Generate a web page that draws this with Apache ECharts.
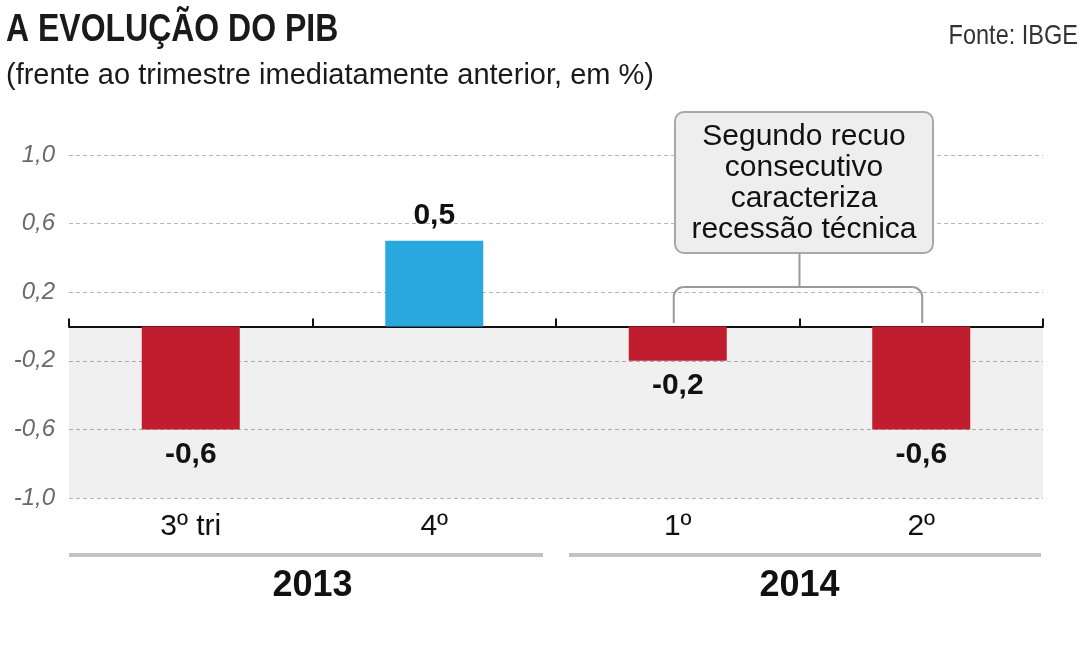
<!DOCTYPE html>
<html>
<head>
<meta charset="utf-8">
<script src="https://cdn.jsdelivr.net/npm/echarts@6/dist/echarts.min.js"></script>
<style>
html,body{margin:0;padding:0;background:#fff;}
#chart{width:1086px;height:652px;}
</style>
</head>
<body>
<div id="chart"></div>
<script>
// ---- data ----
var categories = ['3º tri', '4º', '1º', '2º'];
var values = [-0.6, 0.5, -0.2, -0.6];
var years = ['2013', '2014'];
var yTicks = [-1.0, -0.6, -0.2, 0.2, 0.6, 1.0];
var titleText = 'A EVOLUÇÃO DO PIB';
var subtitleText = '(frente ao trimestre imediatamente anterior, em %)';
var sourceText = 'Fonte: IBGE';
var noteLines = ['Segundo recuo', 'consecutivo', 'caracteriza', 'recessão técnica'];

var RED = '#C01E2E', BLUE = '#29A8E0';
var SANS = '"Liberation Sans", Arial, sans-serif';

var chart = echarts.init(document.getElementById('chart'), null, {renderer: 'canvas'});

function fmt(v) { return (Math.round(v * 10) / 10).toFixed(1).replace('.', ','); }

var option = {
  animation: false,
  backgroundColor: '#fff',
  grid: {left: 69, right: 43, top: 155, bottom: 154, containLabel: false},
  xAxis: [
    {
      type: 'category', data: categories,
      axisLine: {onZero: true, lineStyle: {color: '#111', width: 2}},
      axisTick: {show: true, inside: true, length: 8, lineStyle: {color: '#111', width: 2}},
      axisLabel: {show: false},
      splitLine: {show: false}
    },
    {
      type: 'category', data: categories, position: 'bottom',
      axisLine: {show: false, onZero: false}, axisTick: {show: false},
      axisLabel: {show: true, margin: 14, fontSize: 30, fontFamily: SANS, color: '#111'}
    },
    {
      type: 'category', data: years, position: 'bottom',
      axisLine: {show: false, onZero: false}, axisTick: {show: false},
      axisLabel: {show: true, margin: 70, fontSize: 36, fontWeight: 'bold', fontFamily: SANS, color: '#111'}
    }
  ],
  yAxis: {
    type: 'value', min: -1.0, max: 1.0,
    axisLine: {show: false},
    axisTick: {show: false, customValues: yTicks},
    axisLabel: {
      customValues: yTicks, margin: 14, fontSize: 24, fontStyle: 'italic',
      fontFamily: SANS, color: '#6a6a6a', formatter: function (v) { return fmt(v); }
    },
    splitLine: {show: true, lineStyle: {color: '#b5b5b5', width: 1, type: [4, 3]}}
  },
  series: [{
    type: 'bar', xAxisIndex: 0, barWidth: 98,
    data: values.map(function (v) {
      return {
        value: v,
        itemStyle: {color: v >= 0 ? BLUE : RED},
        label: {position: v >= 0 ? 'top' : 'bottom'}
      };
    }),
    label: {
      show: true, distance: 10, fontSize: 30, fontWeight: 'bold', fontFamily: SANS, color: '#111',
      formatter: function (p) { return fmt(p.value); }
    },
    markArea: {
      silent: true,
      itemStyle: {color: 'rgba(0,0,0,0.06)'},
      data: [[{yAxis: 0}, {yAxis: -1.0}]]
    }
  }]
};
chart.setOption(option);

// ---- decorations positioned via the library's scales ----
var cx = categories.map(function (c) { return chart.convertToPixel({xAxisIndex: 0}, c); });
var band = cx[1] - cx[0];
var left = cx[0] - band / 2, right = cx[cx.length - 1] + band / 2;
var mid = (cx[1] + cx[2]) / 2;
var gap = 13;
var yearLineY = 555;
var bl = cx[2] - 4, br = cx[3] + 1;
var bracketY = 287, bracketBottom = 323, r = 10;
var boxL = 675, boxR = 933, boxT = 112, boxB = 253;
var boxCx = (cx[2] + cx[3]) / 2;
var lineStyle = {stroke: '#9a9a9a', lineWidth: 2, fill: null};

function txt(s, x, y, font, fill, align, sx) {
  return {
    type: 'text', x: x, y: y, scaleX: sx || 1, scaleY: 1,
    style: {text: s, x: 0, y: 0, font: font, fill: fill,
      textAlign: align, align: align, textVerticalAlign: 'middle', verticalAlign: 'middle'}
  };
}

var graphics = [
  txt(titleText, 6, 30, 'bold 39px ' + SANS, '#1a1a1a', 'left', 0.82),
  txt(subtitleText, 6, 76, '29px ' + SANS, '#1a1a1a', 'left', 1),
  txt(sourceText, 1078, 36, '28px ' + SANS, '#333333', 'right', 0.84),
  // year group lines
  {type: 'line', shape: {x1: left, y1: yearLineY, x2: mid - gap, y2: yearLineY}, style: {stroke: '#c3c3c3', lineWidth: 4}},
  {type: 'line', shape: {x1: mid + gap, y1: yearLineY, x2: right - 2, y2: yearLineY}, style: {stroke: '#c3c3c3', lineWidth: 4}},
  // bracket
  {type: 'line', shape: {x1: bl, y1: bracketBottom, x2: bl, y2: bracketY + r}, style: lineStyle},
  {type: 'arc', shape: {cx: bl + r, cy: bracketY + r, r: r, startAngle: Math.PI, endAngle: Math.PI * 1.5, clockwise: true}, style: lineStyle},
  {type: 'line', shape: {x1: bl + r, y1: bracketY, x2: br - r, y2: bracketY}, style: lineStyle},
  {type: 'arc', shape: {cx: br - r, cy: bracketY + r, r: r, startAngle: Math.PI * 1.5, endAngle: Math.PI * 2, clockwise: true}, style: lineStyle},
  {type: 'line', shape: {x1: br, y1: bracketY + r, x2: br, y2: bracketBottom}, style: lineStyle},
  // connector
  {type: 'line', shape: {x1: boxCx, y1: boxB, x2: boxCx, y2: bracketY}, style: lineStyle},
  // box
  {type: 'rect', shape: {x: boxL, y: boxT, width: boxR - boxL, height: boxB - boxT, r: 9}, style: {fill: '#eeeeee', stroke: '#a8a8a8', lineWidth: 2}},
  txt(noteLines.join('\n'), (boxL + boxR) / 2, (boxT + boxB) / 2 + 1, '30px ' + SANS, '#111', 'center', 1)
];
graphics[graphics.length - 1].style.lineHeight = 31;
chart.setOption({graphic: {elements: graphics}});
</script>
</body>
</html>
